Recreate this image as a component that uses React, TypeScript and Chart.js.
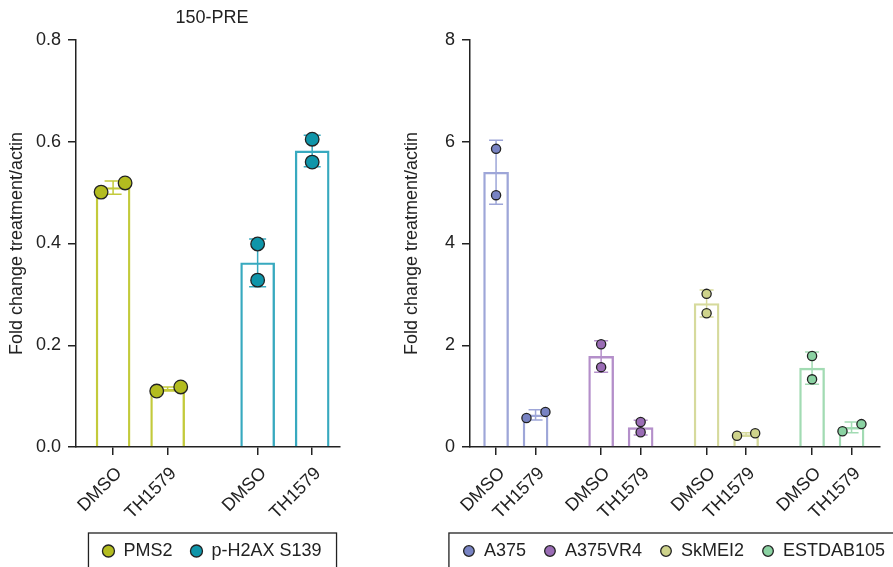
import React, { useEffect, useRef } from 'react';
import { Chart, registerables } from 'chart.js';

Chart.register(...registerables);

const FONT = '"Liberation Sans", Arial, Helvetica, sans-serif';
const INK = '#222222';
const Y_TITLE = 'Fold change treatment/actin';

// ---------- Left panel (150-PRE) ----------
const leftTitle = '150-PRE';
const leftPositions = [0, 1, 2.65, 3.65];
const leftTickLabels = ['DMSO', 'TH1579', 'DMSO', 'TH1579'];
const leftSeries = ['PMS2', 'p-H2AX S139'];
const leftBarMeans = [0.51, 0.114, 0.362, 0.582];
const leftBarSD = [0.013, 0.004, 0.047, 0.031];
// replicate points: [series][condition][replicate]
const leftPoints = [
  [[0.501, 0.519], [0.110, 0.118]],
  [[0.399, 0.328], [0.605, 0.560]],
];
const leftJitter = [
  [[-0.22, 0.22], [-0.2, 0.24]],
  [[0, 0], [0, 0]],
];
const leftYTicks = [0, 0.2, 0.4, 0.6, 0.8];

// ---------- Right panel (cell lines) ----------
const rightPositions = [0, 1, 2.66, 3.66, 5.33, 6.33, 8, 9];
const rightTickLabels = ['DMSO', 'TH1579', 'DMSO', 'TH1579', 'DMSO', 'TH1579', 'DMSO', 'TH1579'];
const rightSeries = ['A375', 'A375VR4', 'SkMEI2', 'ESTDAB105'];
const rightBarMeans = [5.4, 0.63, 1.78, 0.38, 2.82, 0.245, 1.55, 0.385];
const rightBarSD = [0.63, 0.1, 0.31, 0.145, 0.265, 0.035, 0.315, 0.105];
const rightPoints = [
  [[5.86, 4.95], [0.57, 0.69]],
  [[2.02, 1.57], [0.49, 0.29]],
  [[3.01, 2.63], [0.22, 0.27]],
  [[1.79, 1.33], [0.31, 0.45]],
];
const rightJitter = [
  [[0, 0], [-0.23, 0.25]],
  [[0, 0], [0, 0]],
  [[0, 0], [-0.23, 0.23]],
  [[0, 0], [-0.23, 0.25]],
];
const rightYTicks = [0, 2, 4, 6, 8];

type PanelProps = {
  width: number;
  height: number;
  title?: string;
  positions: number[];
  tickLabels: string[];
  series: string[];
  means: number[];
  sds: number[];
  points: number[][][];
  jitter: number[][][];
  yMax: number;
  yTicks: number[];
  yDecimals: number;
  xMin: number;
  xMax: number;
  fills: string[];
  strokes: string[];
  barThickness: number;
  pointRadius: number;
  capWidth: number;
  yWidth: number;
  rightGap: number;
  topPad: number;
  legendBoxH: number;
  plotBottom: number;
};

function Panel(p: PanelProps) {
  const ref = useRef<HTMLCanvasElement>(null);

  useEffect(() => {
    const canvas = ref.current;
    if (!canvas) return;

    const barColors = p.positions.map((_, i) => p.strokes[Math.floor(i / 2)]);
    const datasets: any[] = [
      {
        type: 'bar',
        label: '',
        data: p.positions.map((x, i) => ({ x, y: p.means[i] })),
        backgroundColor: 'rgba(255,255,255,0)',
        borderColor: barColors,
        borderWidth: 1.7,
        barThickness: p.barThickness,
        order: 10,
      },
    ];
    p.series.forEach((name, s) => {
      const data: any[] = [];
      p.points[s].forEach((reps, c) => {
        const pos = p.positions[s * 2 + c];
        reps.forEach((v, r) => data.push({ x: pos + p.jitter[s][c][r], y: v }));
      });
      datasets.push({
        type: 'scatter',
        label: name,
        data,
        showLine: false,
        pointRadius: p.pointRadius,
        pointHoverRadius: p.pointRadius,
        pointBackgroundColor: p.fills[s],
        pointBorderColor: INK,
        pointBorderWidth: 1.3,
        backgroundColor: p.fills[s],
        borderColor: INK,
        order: 1,
      });
    });

    const errorBars = {
      id: 'errorBars',
      afterDatasetDraw(chart: any, args: any) {
        if (args.index !== 0) return;
        const { ctx } = chart;
        const xs = chart.scales.x;
        const ys = chart.scales.y;
        ctx.save();
        ctx.lineWidth = 1.5;
        p.positions.forEach((pos, i) => {
          const x = xs.getPixelForValue(pos);
          const yHi = ys.getPixelForValue(p.means[i] + p.sds[i]);
          const yLo = ys.getPixelForValue(p.means[i] - p.sds[i]);
          const h = p.capWidth / 2;
          ctx.strokeStyle = barColors[i];
          ctx.beginPath();
          ctx.moveTo(x, yHi);
          ctx.lineTo(x, yLo);
          ctx.moveTo(x - h, yHi);
          ctx.lineTo(x + h, yHi);
          ctx.moveTo(x - h, yLo);
          ctx.lineTo(x + h, yLo);
          ctx.stroke();
        });
        ctx.restore();
      },
    };

    const legendBox = {
      id: 'legendBox',
      afterDraw(chart: any) {
        const lg = chart.legend;
        const hb = lg && lg.legendHitBoxes;
        if (!hb || !hb.length) return;
        const first = hb[0];
        const last = hb[hb.length - 1];
        const cy = first.top + first.height / 2;
        const left = first.left - 14;
        const right = last.left + last.width + 15;
        const { ctx } = chart;
        ctx.save();
        ctx.strokeStyle = INK;
        ctx.lineWidth = 1.3;
        ctx.strokeRect(left, cy - 18, right - left, chart.height);
        ctx.restore();
      },
    };

    const font = { family: FONT, size: 18, weight: 'normal' as const };
    const legendH = 18 + 18 + 10;
    const xAxisH = p.height - legendH - p.plotBottom;

    const chart = new Chart(canvas, {
      type: 'bar',
      data: { datasets },
      options: {
        responsive: false,
        animation: false,
        events: [],
        layout: { padding: { left: 0, right: 0, top: p.topPad, bottom: 0 } },
        plugins: {
          title: p.title
            ? {
                display: true,
                text: p.title,
                color: INK,
                font,
                padding: { top: 7, bottom: 11.4 },
              }
            : { display: false },
          legend: {
            display: true,
            position: 'bottom',
            labels: {
              filter: (item: any) => item.datasetIndex > 0,
              usePointStyle: true,
              pointStyle: 'circle',
              boxWidth: 12,
              boxHeight: p.legendBoxH,
              padding: 18,
              color: INK,
              font,
            },
          },
          tooltip: { enabled: false },
        },
        scales: {
          x: {
            type: 'linear',
            min: p.xMin,
            max: p.xMax,
            offset: false,
            afterFit: (s: any) => {
              s.height = xAxisH;
            },
            afterBuildTicks: (s: any) => {
              s.ticks = p.positions.map((v) => ({ value: v }));
            },
            ticks: {
              autoSkip: false,
              minRotation: 45,
              maxRotation: 45,
              padding: 8,
              labelOffset: 6,
              color: INK,
              font,
              callback: (_v: any, i: number) => p.tickLabels[i],
            },
            grid: {
              display: true,
              drawOnChartArea: false,
              drawTicks: true,
              tickLength: 8,
              color: INK,
              lineWidth: 1.5,
              offset: false,
            },
            border: { display: true, color: INK, width: 1.5 },
          },
          y: {
            type: 'linear',
            position: 'left',
            min: 0,
            max: p.yMax,
            afterFit: (s: any) => {
              s.width = p.yWidth;
            },
            afterBuildTicks: (s: any) => {
              s.ticks = p.yTicks.map((v) => ({ value: v }));
            },
            ticks: {
              padding: 7,
              color: INK,
              font,
              callback: (v: any) => Number(v).toFixed(p.yDecimals),
            },
            grid: {
              display: true,
              drawOnChartArea: false,
              drawTicks: true,
              tickLength: 8,
              color: INK,
              lineWidth: 1.5,
            },
            border: { display: true, color: INK, width: 1.5 },
            title: {
              display: true,
              text: Y_TITLE,
              color: INK,
              font,
              padding: { top: 6, bottom: 0 },
            },
          },
          yGap: {
            type: 'linear',
            position: 'right',
            min: 0,
            max: 1,
            afterFit: (s: any) => {
              s.width = p.rightGap;
            },
            ticks: { display: false },
            grid: { display: false },
            border: { display: false },
          },
        },
      } as any,
      plugins: [errorBars, legendBox],
    });

    return () => chart.destroy();
  }, []);

  return <canvas ref={ref} width={p.width} height={p.height} style={{ display: 'block' }} />;
}

export default function App() {
  return (
    <div
      style={{
        position: 'fixed',
        left: 0,
        top: 0,
        width: 893,
        height: 567,
        overflow: 'hidden',
        background: '#ffffff',
      }}
    >
      <div style={{ position: 'absolute', left: 0, top: 0 }}>
        <Panel
          width={424}
          height={570}
          title={leftTitle}
          positions={leftPositions}
          tickLabels={leftTickLabels}
          series={leftSeries}
          means={leftBarMeans}
          sds={leftBarSD}
          points={leftPoints}
          jitter={leftJitter}
          yMax={0.8}
          yTicks={leftYTicks}
          yDecimals={1}
          xMin={-0.68}
          xMax={4.16}
          fills={['#b3bc1f', '#0f95a9']}
          strokes={['#c3ca3b', '#37a9bf']}
          barThickness={34}
          pointRadius={6.8}
          capWidth={17}
          yWidth={76}
          rightGap={84}
          topPad={0}
          legendBoxH={8.5}
          plotBottom={447}
        />
      </div>
      <div style={{ position: 'absolute', left: 395, top: 0 }}>
        <Panel
          width={558}
          height={570}
          positions={rightPositions}
          tickLabels={rightTickLabels}
          series={rightSeries}
          means={rightBarMeans}
          sds={rightBarSD}
          points={rightPoints}
          jitter={rightJitter}
          yMax={8}
          yTicks={rightYTicks}
          yDecimals={0}
          xMin={-0.66}
          xMax={9.72}
          fills={['#7883c3', '#9a6cb5', '#ced38b', '#8ad2a2']}
          strokes={['#9ea6d8', '#b48fca', '#d6da9c', '#a2dbb3']}
          barThickness={25}
          pointRadius={4.6}
          capWidth={14}
          yWidth={75}
          rightGap={73}
          topPad={40}
          legendBoxH={7.5}
          plotBottom={447}
        />
      </div>
    </div>
  );
}
